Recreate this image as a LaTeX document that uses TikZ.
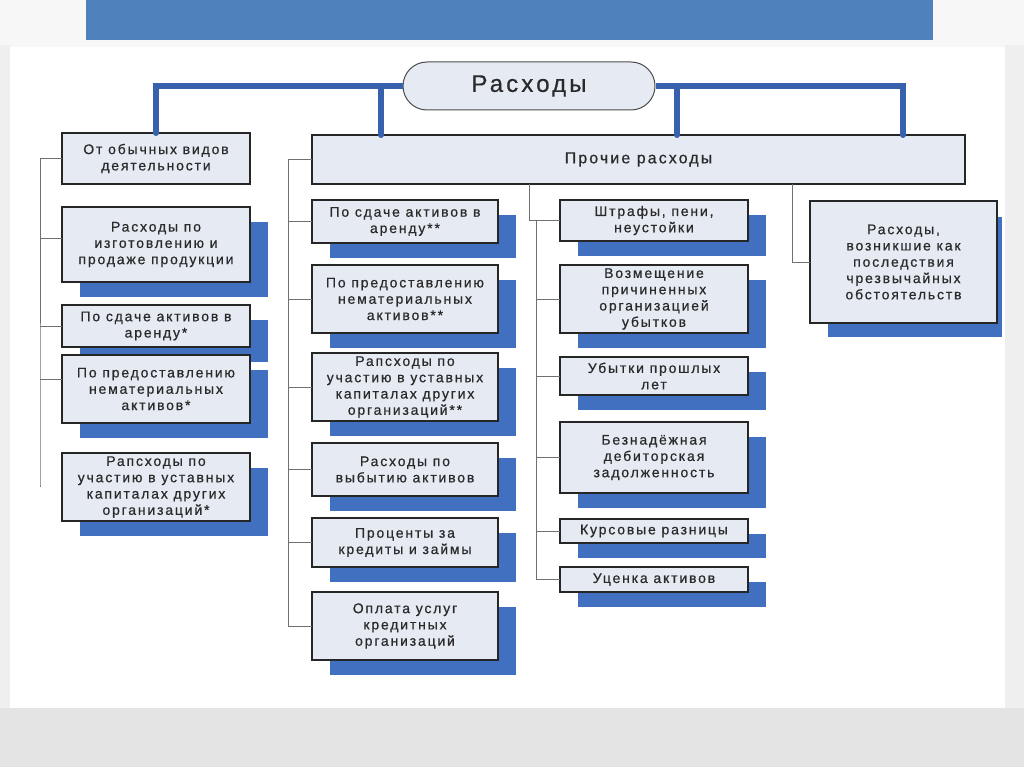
\documentclass[tikz,border=0pt]{standalone}
\usepackage{fontspec}
\setmainfont{Liberation Sans}[LetterSpace=13,FakeBold=0.6]
\usetikzlibrary{calc}
\definecolor{barblue}{HTML}{4F81BD}
\definecolor{connblue}{HTML}{3761AD}
\definecolor{shblue}{HTML}{4270C0}
\definecolor{boxfill}{HTML}{E6EBF3}
\definecolor{treegray}{HTML}{707070}
\definecolor{txt}{HTML}{2A2A2A}
\definecolor{pagegray}{HTML}{E4E4E4}
\definecolor{topwhite}{HTML}{F7F7F7}
\tikzset{
  box/.style={draw=black!85, line width=1.3pt, fill=boxfill, inner sep=0pt, outer sep=0pt,
    align=center, text=txt, font=\fontsize{14}{16.3}\selectfont},
  tree/.style={draw=treegray, line width=1pt},
  bconn/.style={draw=connblue, line width=5.5pt},
  bdot/.style={fill=connblue},
  shadowbox/.style={fill=shblue},
  topnode/.style={draw=black!70, line width=1pt, fill=boxfill, rounded corners=24pt,
    inner sep=0pt, text=txt, font=\fontsize{24}{27}\selectfont},
}
\newcommand\shbox[7]{%
  \ifnum#6=1 \fill[shadowbox] ({#2+18},{#3+15}) rectangle ({#4+18},{#5+15});\fi
  \node[box, minimum width={(#4-#2)*1pt}, minimum height={(#5-#3)*1pt}] (#1) at ({(#2+#4)/2},{(#3+#5)/2}) {#7};
}
\begin{document}
\begin{tikzpicture}[x=1pt,y=-1pt]
\useasboundingbox (0,0) rectangle (1024,767);
% background
\fill[topwhite] (0,0) rectangle (1024,767);
\fill[pagegray] (0,708) rectangle (1024,767);
\fill[pagegray!60] (0,45) rectangle (10,708);
\fill[pagegray!60] (1005,45) rectangle (1024,708);
\fill[white] (10,47) rectangle (1005,708);
\fill[barblue] (86,0) rectangle (933,40);

% top node
\node[topnode, minimum width=252pt, minimum height=48pt] (top) at (529,86) {Расходы};

% level 1
\shbox{L1}{62}{133}{250}{184}{0}{От обычных видов\\деятельности}
\node[box, minimum width=653pt, minimum height=49pt, font=\fontsize{16}{18}\selectfont] (P) at (638.5,159.5) {Прочие расходы};

% blue connectors
\coordinate (b1) at (381,85);
\coordinate (b3) at (677,85);
\coordinate (b4) at (903,85);
\draw[bconn] (top.west) -| (L1.north);
\draw[bconn] (b1) -- (b1 |- P.north);
\draw[bconn] (top.east) -| (b4 |- P.north);
\draw[bconn] (b3) -- (b3 |- P.north);
\foreach \c in {L1.north, b1 |- P.north, b3 |- P.north, b4 |- P.north}
  \fill[bdot] (\c) circle (3pt);

% left column
\shbox{L2}{62}{207}{250}{282}{1}{Расходы по\\изготовлению и\\продаже продукции}
\shbox{L3}{62}{305}{250}{347}{1}{По сдаче активов в\\аренду*}
\shbox{L4}{62}{355}{250}{423}{1}{По предоставлению\\нематериальных\\активов*}
\shbox{L5}{62}{453}{250}{521}{1}{Рапсходы по\\участию в уставных\\капиталах других\\организаций*}

% middle column
\shbox{M1}{312}{200}{498}{243}{1}{По сдаче активов в\\аренду**}
\shbox{M2}{312}{265}{498}{333}{1}{По предоставлению\\нематериальных\\активов**}
\shbox{M3}{312}{353}{498}{421}{1}{Рапсходы по\\участию в уставных\\капиталах других\\организаций**}
\shbox{M4}{312}{443}{498}{496}{1}{Расходы по\\выбытию активов}
\shbox{M5}{312}{518}{498}{567}{1}{Проценты за\\кредиты и займы}
\shbox{M6}{312}{592}{498}{660}{1}{Оплата услуг\\кредитных\\организаций}

% second middle column
\shbox{S1}{560}{200}{748}{241}{1}{Штрафы, пени,\\неустойки}
\shbox{S2}{560}{265}{748}{333}{1}{Возмещение\\причиненных\\организацией\\убытков}
\shbox{S3}{560}{357}{748}{395}{1}{Убытки прошлых\\лет}
\shbox{S4}{560}{422}{748}{493}{1}{Безнадёжная\\дебиторская\\задолженность}
\shbox{S5}{560}{519}{748}{543}{1}{Курсовые разницы}
\shbox{S6}{560}{567}{748}{592}{1}{Уценка активов}

% right box
\fill[shadowbox] (828,217) rectangle (1002,337);
\shbox{R}{810}{201}{997}{323}{0}{Расходы,\\возникшие как\\последствия\\чрезвычайных\\обстоятельств}

% left tree
\coordinate (lt0) at (40,158.5);
\coordinate (lt1) at (40,485);
\draw[tree] (L1.west) -- (lt0) -- (lt1) -- (L5.west -| lt1);
\draw[tree] ([yshift=6pt]L2.west) -- ([yshift=6pt]L2.west -| lt0);
\draw[tree] (L3.west) -- (L3.west -| lt0);
\draw[tree] ([yshift=10pt]L4.west) -- ([yshift=10pt]L4.west -| lt0);

% middle tree
\coordinate (m0) at (288,159.5);
\coordinate (m1) at (288,626);
\draw[tree] (P.west) -- (m0) -- (m1) -- (M6.west);
\foreach \n in {M1,M2,M3,M4,M5}
  \draw[tree] (\n.west) -- (\n.west -| m0);

% second middle tree
\coordinate (p1) at (529,220.5);
\coordinate (s0) at (536,220.5);
\coordinate (s1) at (536,579.5);
\draw[tree] (P.south -| p1) -- (p1) -- (S1.west);
\draw[tree] (s0) -- (s1) -- (S6.west);
\foreach \n in {S2,S3,S4,S5}
  \draw[tree] (\n.west) -- (\n.west -| s0);

% right tree
\coordinate (p2) at (792,262);
\draw[tree] (P.south -| p2) -- (p2) -- (R.west);
\end{tikzpicture}
\end{document}
